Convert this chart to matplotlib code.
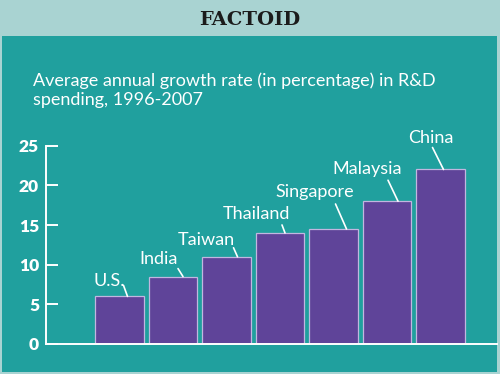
import matplotlib
matplotlib.use("Agg")
import matplotlib.pyplot as plt
from matplotlib.patches import Rectangle
from matplotlib.transforms import offset_copy

countries = ["U.S.", "India", "Taiwan", "Thailand", "Singapore", "Malaysia", "China"]
growth = [6.0, 8.5, 11.0, 14.0, 14.5, 18.0, 22.0]
yticks = [0, 5, 10, 15, 20, 25]

# leader line / label offsets in pixels from bar centre top (layout only)
line_end = [(8, 0), (10, 0), (11, 0), (5, 0), (13, 0), (11, 0), (3, 0)]
line_start = [(4, 11), (5, 8), (7, 9), (2, 8), (2, 25), (1, 21), (-8, 22)]
label_pos = [(-10, 10), (-14, 13), (-20, 12), (-24, 14), (-19, 32), (-20, 27), (-10, 26)]

teal = "#20a09e"
light = "#a9d3d2"
purple = "#5f4499"

fig = plt.figure(figsize=(5, 3.74), dpi=100)
fig.patch.set_facecolor(light)
fig.patches.append(Rectangle((2 / 500, 2 / 374), 495 / 500, 336 / 374,
                             transform=fig.transFigure, facecolor=teal,
                             edgecolor="none", zorder=-5))

fig.text(0.5, 1 - 20 / 374, "FACTOID", ha="center", va="center",
         family="DejaVu Serif", weight="bold", fontsize=14, color="#1b1b1b")
fig.text(33 / 500, 1 - 105 / 374,
         "Average annual growth rate (in percentage) in R&D\nspending, 1996-2007",
         ha="left", va="baseline", family="Lato", fontsize=13.0, color="white",
         linespacing=1.25)

ax = fig.add_axes([46 / 500, 30 / 374, 451 / 500, 198.3 / 374])
ax.set_facecolor("none")
x = list(range(len(countries)))
ax.bar(x, growth, width=0.9, color=purple, edgecolor="#c2b6e0", linewidth=0.9, zorder=2)
ax.set_xlim(-1.374, 7.056)
ax.set_ylim(0, 25)
ax.set_yticks(yticks)
ax.set_xticks([])
for s in ["top", "right"]:
    ax.spines[s].set_visible(False)
for s in ["left", "bottom"]:
    ax.spines[s].set_color("white")
    ax.spines[s].set_linewidth(1.4)
ax.spines["bottom"].set_zorder(3)
ax.tick_params(axis="y", direction="in", length=8.5, width=1.4, color="white",
               labelcolor="white", pad=5, labelsize=12.5)
for t in ax.get_yticklabels():
    t.set_family("Lato")
    t.set_weight("heavy")

for i, (name, v) in enumerate(zip(countries, growth)):
    ex, ey = line_end[i]
    sx, sy = line_start[i]
    ax.annotate("", xy=(i, v), xytext=(i, v),
                xycoords=offset_copy(ax.transData, fig=fig, x=ex, y=ey, units="dots"),
                textcoords=offset_copy(ax.transData, fig=fig, x=sx, y=sy, units="dots"),
                arrowprops=dict(arrowstyle="-", color="white", lw=1.2,
                                shrinkA=0, shrinkB=0))
    tx, ty = label_pos[i]
    ax.annotate(name, xy=(i, v), xytext=(tx, ty), textcoords="offset pixels",
                ha="center", va="baseline", color="white", family="Lato",
                fontsize=13)

fig.savefig("out.png", dpi=100, facecolor=fig.get_facecolor())
